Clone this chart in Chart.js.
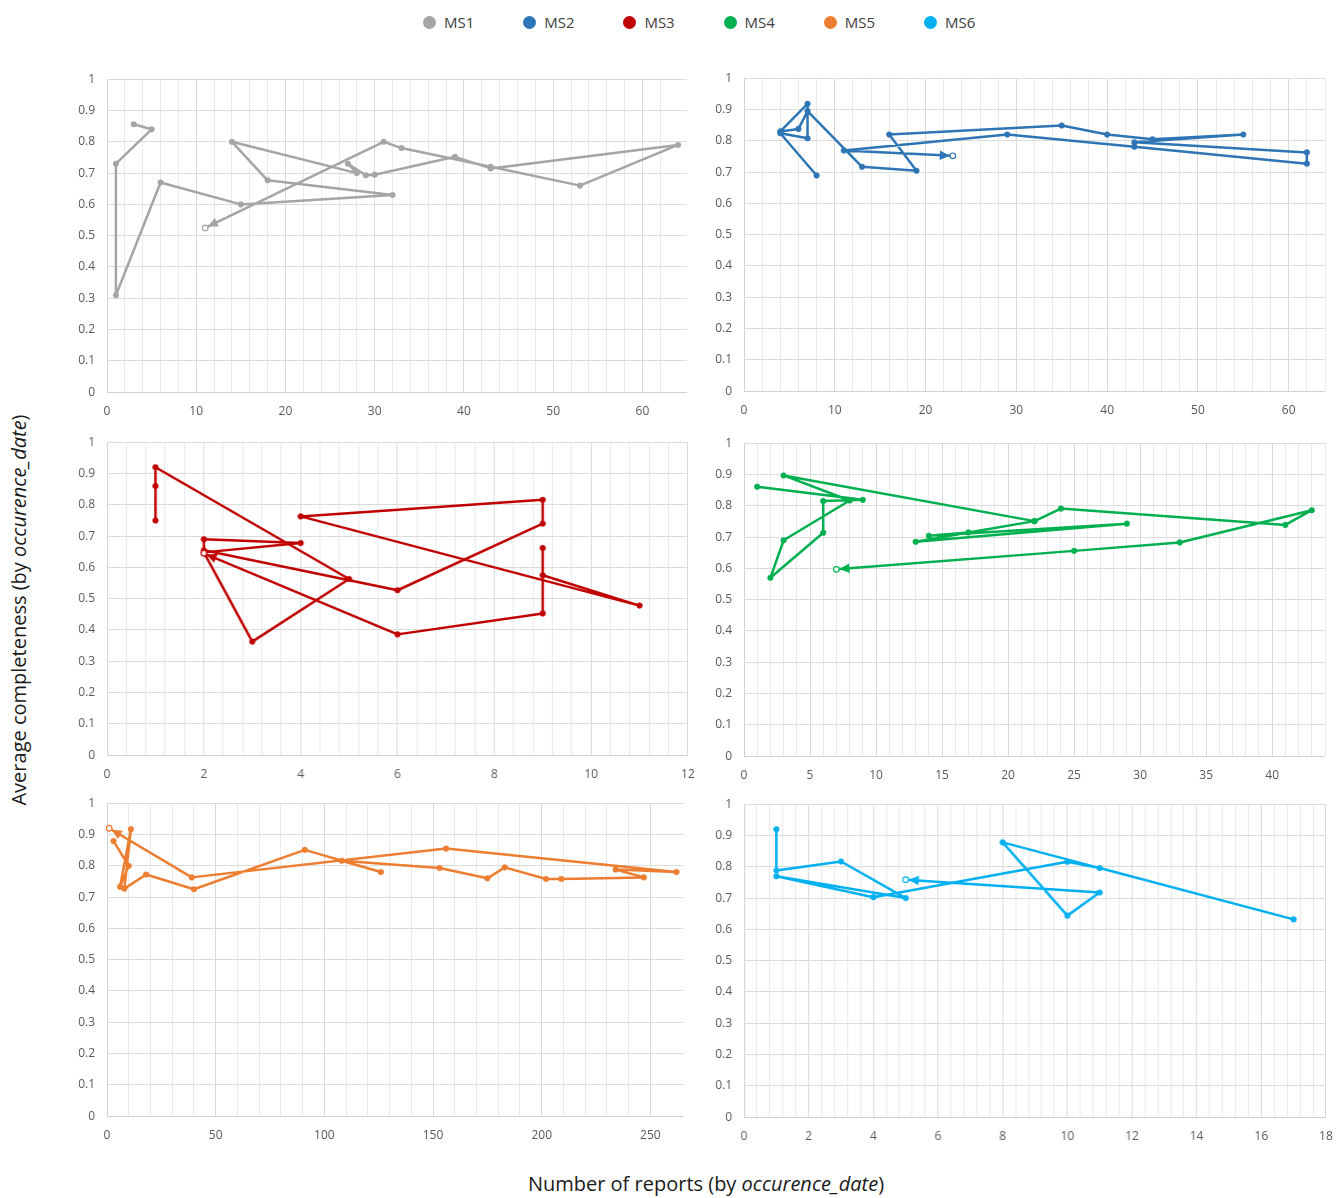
<!DOCTYPE html>
<html>
<head>
<meta charset="utf-8">
<title>Average completeness vs number of reports</title>
<script src="https://cdn.jsdelivr.net/npm/chart.js@4.4.0/dist/chart.umd.min.js"></script>
<style>
  html, body { margin: 0; padding: 0; background: #fff; }
  #page { position: relative; width: 1343px; height: 1198px; overflow: hidden; font-family: "Open Sans", "Liberation Sans", sans-serif; }
  .panel { position: absolute; }
  .legend-item { position: absolute; top: 12px; height: 20px; display: flex; align-items: center; font-size: 15px; color: #404040; white-space: nowrap; }
  .legend-item .dot { width: 13px; height: 13px; border-radius: 50%; margin-right: 8px; display: inline-block; }
  #ytitle { position: absolute; left: 18px; top: 610px; transform: translate(-50%, -50%) rotate(-90deg); white-space: nowrap; font-size: 20px; color: #1a1a1a; }
  #xtitle { position: absolute; left: 706px; top: 1183px; transform: translate(-50%, -50%); white-space: nowrap; font-size: 20px; color: #1a1a1a; }
</style>
</head>
<body>
<div id="page">
  <div id="legend"></div>
  <div id="ytitle">Average completeness (by <i>occurence_date</i>)</div>
  <div id="xtitle">Number of reports (by <i>occurence_date</i>)</div>
</div>
<script>
// Series names
const seriesNames = ['MS1', 'MS2', 'MS3', 'MS4', 'MS5', 'MS6'];

// Each series is a path through time: number of reports (x) and average completeness (y)
const ms1Reports      = [3, 5, 1, 1, 6, 15, 32, 18, 14, 28, 27, 29, 30, 39, 43, 64, 53, 43, 33, 31, 11];
const ms1Completeness = [0.856, 0.84, 0.73, 0.31, 0.67, 0.60, 0.63, 0.677, 0.80, 0.70, 0.73, 0.693, 0.695, 0.752, 0.715, 0.79, 0.66, 0.72, 0.78, 0.80, 0.525];

const ms2Reports      = [8, 4, 7, 7, 4, 6, 7, 13, 19, 16, 35, 40, 45, 55, 43, 62, 62, 43, 29, 11, 23];
const ms2Completeness = [0.689, 0.824, 0.808, 0.918, 0.83, 0.838, 0.895, 0.717, 0.704, 0.82, 0.849, 0.82, 0.805, 0.82, 0.795, 0.763, 0.727, 0.781, 0.82, 0.769, 0.752];

const ms3Reports      = [1, 1, 1, 5, 3, 2, 4, 2, 2, 6, 9, 9, 4, 11, 9, 9, 9, 6, 2];
const ms3Completeness = [0.75, 0.86, 0.92, 0.563, 0.363, 0.648, 0.678, 0.69, 0.655, 0.527, 0.74, 0.816, 0.763, 0.478, 0.575, 0.662, 0.453, 0.386, 0.645];

const ms4Reports      = [1, 9, 6, 6, 2, 3, 8, 3, 22, 13, 29, 14, 17, 22, 24, 41, 43, 33, 25, 7];
const ms4Completeness = [0.861, 0.819, 0.815, 0.714, 0.57, 0.69, 0.817, 0.897, 0.751, 0.685, 0.743, 0.704, 0.715, 0.751, 0.791, 0.739, 0.786, 0.683, 0.656, 0.597];

const ms5Reports      = [3, 10, 6, 11, 8, 18, 40, 91, 126, 108, 153, 175, 183, 202, 209, 247, 234, 262, 156, 39, 1];
const ms5Completeness = [0.879, 0.80, 0.733, 0.917, 0.727, 0.772, 0.725, 0.851, 0.78, 0.816, 0.793, 0.76, 0.795, 0.758, 0.758, 0.763, 0.788, 0.78, 0.855, 0.763, 0.92];

const ms6Reports      = [1, 1, 3, 5, 1, 4, 10, 11, 17, 8, 10, 11, 5];
const ms6Completeness = [0.92, 0.788, 0.817, 0.70, 0.77, 0.703, 0.816, 0.796, 0.632, 0.878, 0.644, 0.718, 0.759];

// Axis ranges and tick steps per panel
const xAxisMax   = [65, 64, 12, 44, 265, 18];
const xMajorStep = [10, 10, 2, 5, 50, 2];
const xMinorStep = [2, 2, 0.4, 1, 10, 0.4];
const yAxisMax   = 1;
const yStep      = 0.1;

const reportsBySeries      = [ms1Reports, ms2Reports, ms3Reports, ms4Reports, ms5Reports, ms6Reports];
const completenessBySeries = [ms1Completeness, ms2Completeness, ms3Completeness, ms4Completeness, ms5Completeness, ms6Completeness];

// Styling
const seriesColors = ['#A5A5A5', '#2E75B6', '#C00000', '#00B050', '#ED7D31', '#00B0F0'];
// Plot-area rectangles on the page: [left, top, right, bottom]
const plotRects = [
  [107, 79, 687, 392],
  [744, 78, 1325, 391],
  [107, 442, 687, 755],
  [744, 443, 1325, 756],
  [107, 803, 683, 1116],
  [744, 804, 1325, 1117]
];
const PAD_LEFT = 45, PAD_TOP = 10, PAD_RIGHT = 10, PAD_BOTTOM = 35;

// Legend
const legendEl = document.getElementById('legend');
seriesNames.forEach((name, i) => {
  const item = document.createElement('div');
  item.className = 'legend-item';
  item.style.left = (423 + i * 100.2) + 'px';
  item.innerHTML = '<span class="dot" style="background:' + seriesColors[i] + '"></span>' + name;
  legendEl.appendChild(item);
});

const isMultiple = (v, step) => Math.abs(v / step - Math.round(v / step)) < 1e-6;

// Arrowhead at the final point of the path, with a hollow end marker
const arrowEnd = {
  id: 'arrowEnd',
  afterDatasetsDraw(chart) {
    const pts = chart.getDatasetMeta(0).data;
    const n = pts.length;
    if (n < 2) return;
    const a = pts[n - 2], b = pts[n - 1];
    const ang = Math.atan2(b.y - a.y, b.x - a.x);
    const c = Math.cos(ang), s = Math.sin(ang);
    const col = chart.data.datasets[0].borderColor;
    const ctx = chart.ctx;
    const tipX = b.x - c * 3, tipY = b.y - s * 3;
    const len = 10, half = 4.8;
    ctx.save();
    ctx.fillStyle = col;
    ctx.beginPath();
    ctx.moveTo(tipX, tipY);
    ctx.lineTo(tipX - c * len - s * half, tipY - s * len + c * half);
    ctx.lineTo(tipX - c * len + s * half, tipY - s * len - c * half);
    ctx.closePath();
    ctx.fill();
    ctx.beginPath();
    ctx.arc(b.x, b.y, 2.8, 0, Math.PI * 2);
    ctx.fillStyle = '#fff';
    ctx.fill();
    ctx.lineWidth = 1.2;
    ctx.strokeStyle = col;
    ctx.stroke();
    ctx.restore();
  }
};

const page = document.getElementById('page');

seriesNames.forEach((name, i) => {
  const [L, T, R, B] = plotRects[i];
  let w = (R - L) + PAD_LEFT + PAD_RIGHT;
  let h = (B - T) + PAD_TOP + PAD_BOTTOM;
  const holder = document.createElement('div');
  holder.className = 'panel';
  holder.style.left = (L - PAD_LEFT) + 'px';
  holder.style.top = (T - PAD_TOP) + 'px';
  holder.style.width = w + 'px';
  holder.style.height = h + 'px';
  const canvas = document.createElement('canvas');
  holder.appendChild(canvas);
  page.appendChild(holder);

  const xs = reportsBySeries[i], ys = completenessBySeries[i];
  const points = xs.map((x, k) => ({ x: x, y: ys[k] }));
  const color = seriesColors[i];
  const last = points.length - 1;

  const chart = new Chart(canvas, {
    type: 'scatter',
    data: {
      datasets: [{
        label: name,
        data: points,
        showLine: true,
        borderColor: color,
        borderWidth: 2.5,
        borderJoinStyle: 'round',
        borderCapStyle: 'round',
        tension: 0,
        pointRadius: points.map((p, k) => k === last ? 0 : 2.8),
        pointBackgroundColor: color,
        pointBorderColor: color,
        pointBorderWidth: 0.5,
        pointHoverRadius: 0
      }]
    },
    options: {
      responsive: true,
      maintainAspectRatio: false,
      animation: false,
      events: [],
      layout: { padding: { left: 0, top: 2, right: 2, bottom: 0 } },
      plugins: { legend: { display: false }, tooltip: { enabled: false } },
      scales: {
        x: {
          type: 'linear',
          min: 0,
          max: xAxisMax[i],
          afterFit: (s) => { s.height = PAD_BOTTOM; },
          border: { display: false },
          grid: {
            drawTicks: false,
            lineWidth: 1,
            color: (ctx) => {
              const v = ctx.tick.value;
              if (!isMultiple(v, xMinorStep[i])) return 'rgba(0,0,0,0)';
              if (Math.abs(v) < 1e-9) return '#d0d0d0';
              return isMultiple(v, xMajorStep[i]) ? '#d9d9d9' : '#e9e9e9';
            }
          },
          ticks: {
            stepSize: xMinorStep[i],
            autoSkip: false,
            maxRotation: 0,
            padding: 12,
            color: '#595959',
            font: { family: '"Open Sans", sans-serif', size: 12 },
            callback: (v) => isMultiple(v, xMajorStep[i]) ? String(Math.round(v * 100) / 100) : ''
          }
        },
        y: {
          type: 'linear',
          min: 0,
          max: yAxisMax,
          afterFit: (s) => { s.width = PAD_LEFT; },
          border: { display: false },
          grid: {
            drawTicks: false,
            lineWidth: 1,
            color: (ctx) => Math.abs(ctx.tick.value) < 1e-9 ? '#d0d0d0' : '#dcdcdc'
          },
          ticks: {
            stepSize: yStep,
            autoSkip: false,
            padding: 12,
            color: '#595959',
            font: { family: '"Open Sans", sans-serif', size: 12 },
            callback: (v) => String(+(+v).toFixed(1))
          }
        }
      }
    },
    plugins: [arrowEnd]
  });

  // Align the chart area with its target rectangle on the page
  for (let pass = 0; pass < 2; pass++) {
    const ca = chart.chartArea;
    w += (R - L) - (ca.right - ca.left);
    h += (B - T) - (ca.bottom - ca.top);
    holder.style.left = (L - ca.left) + 'px';
    holder.style.top = (T - ca.top) + 'px';
    holder.style.width = w + 'px';
    holder.style.height = h + 'px';
    chart.resize(w, h);
  }
});
</script>
</body>
</html>
